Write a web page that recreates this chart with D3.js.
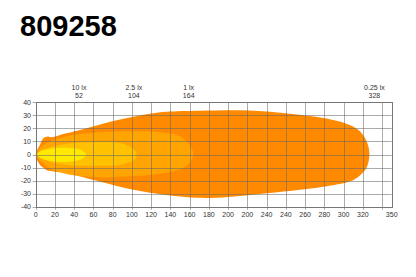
<!DOCTYPE html>
<html>
<head>
<meta charset="utf-8">
<script src="https://cdn.jsdelivr.net/npm/d3@7/dist/d3.min.js"></script>
<style>
  body { margin: 0; background: #fff; }
  text { font-family: "Liberation Sans", Arial, sans-serif; }
</style>
</head>
<body>
<div id="chart"></div>
<script>
// chart values
var title = "809258";
var xTickValues = [0, 20, 40, 60, 80, 100, 120, 140, 160, 180, 200, 220, 240, 260, 280, 300, 320, 340, 360];
var xTickLabels = ["0", "20", "40", "60", "80", "100", "120", "140", "160", "180", "200", "200", "240", "240", "260", "280", "300", "320", ""];
var xEndLabel = "350";
var yTickValues = [-40, -30, -20, -10, 0, 10, 20, 30, 40];
var luxLabels = ["10 lx", "2.5 lx", "1 lx", "0.25 lx"];
var luxDistances = ["52", "104", "164", "328"];
var luxLabelX = [45, 102, 159, 352];

// isolux zones [distance, width]
var zone025 = [[0, 0], [4.5, 7.5], [8, 12.4], [12.5, 13.8], [17, 13.2], [24, 14.6], [32, 16.2], [50, 19.6], [67, 23],
  [84, 26.3], [101.5, 29], [120, 31.4], [136, 32.8], [170, 33.6], [222, 33.8], [257, 31.8], [285, 29.5], [309, 26.5],
  [327, 22.5], [337, 17.8], [344, 10], [346.8, 1], [344, -10], [337, -16], [327, -20.5], [309, -23.5], [275, -27],
  [240, -29.7], [200, -32.5], [170, -33.2], [136, -31], [101.5, -27], [67, -20.8], [32, -14.4], [17, -12.8],
  [12, -12.2], [7.6, -10], [4.5, -8]];
var zone1 = [[0.8, 0], [4.5, 5], [9.7, 8], [15, 10], [32, 14], [67, 17], [101.5, 17.8], [125, 17.4], [136, 16.5],
  [150, 14], [158, 9], [162.5, 4], [163.8, 0], [162.5, -3.5], [158, -8], [150, -11.5], [136, -14], [120, -15.5],
  [101.5, -16.5], [67, -17.5], [32, -15], [15, -11], [9.7, -8], [4.5, -5]];
var zone25 = [[1.4, 0], [6.5, 3], [15, 5.5], [32, 8.3], [67, 9.5], [88, 8.8], [96, 6.5], [101.5, 4.5], [105, 0],
  [101.5, -5], [96, -6.2], [88, -8], [67, -8.6], [32, -8], [15, -5.5], [6.5, -3]];
var zone10 = [[1.4, 0], [4.5, 2.5], [11.7, 4], [22, 5], [36, 5], [46, 3.8], [50.2, 2], [52.3, 0], [50.2, -2.5],
  [46, -4.3], [36, -5.5], [22, -5.5], [11.7, -4.5], [4.5, -2.5]];

var zones = [zone025, zone1, zone25, zone10];
var zoneColors = ["#ff8a00", "#ffa400", "#ffc100", "#ffe900"];

var width = 416, height = 277;
var svg = d3.select('#chart').append('svg')
  .attr('width', width)
  .attr('height', height);

var x = d3.scaleLinear().domain([0, 370]).range([35.7, 391.7]);
var y = d3.scaleLinear().domain([-40, 40]).range([206.7, 102.3]);

svg.append('text')
  .attr('x', 20)
  .attr('y', 36)
  .attr('font-size', 29)
  .attr('font-weight', 'bold')
  .attr('fill', '#000')
  .text(title);

// zones
var line = d3.line()
  .x(function (d) { return x(d[0]); })
  .y(function (d) { return y(d[1]); })
  .curve(d3.curveCatmullRomClosed);

svg.selectAll('path.zone')
  .data(zones)
  .enter().append('path')
  .attr('class', 'zone')
  .attr('d', line)
  .attr('fill', function (d, i) { return zoneColors[i]; });

// grid on top
var grid = svg.append('g').attr('stroke', '#666').attr('stroke-opacity', 0.55).attr('stroke-width', 1);
grid.selectAll('line.v')
  .data(xTickValues)
  .enter().append('line')
  .attr('x1', function (d) { return Math.round(x(d)) + 0.5; })
  .attr('x2', function (d) { return Math.round(x(d)) + 0.5; })
  .attr('y1', y(40))
  .attr('y2', y(-40) + 3);
grid.selectAll('line.h')
  .data(yTickValues)
  .enter().append('line')
  .attr('y1', function (d) { return Math.round(y(d)) + 0.5; })
  .attr('y2', function (d) { return Math.round(y(d)) + 0.5; })
  .attr('x1', x(0) - 3)
  .attr('x2', x(370));
svg.append('rect')
  .attr('x', Math.round(x(0)) + 0.5)
  .attr('y', Math.round(y(40)) + 0.5)
  .attr('width', Math.round(x(370)) - Math.round(x(0)))
  .attr('height', Math.round(y(-40)) - Math.round(y(40)))
  .attr('fill', 'none')
  .attr('stroke', '#777');

// axes labels
svg.selectAll('text.xl')
  .data(xTickValues)
  .enter().append('text')
  .attr('x', function (d) { return x(d); })
  .attr('y', 216.5)
  .attr('text-anchor', 'middle')
  .attr('font-size', 7)
  .attr('fill', '#333')
  .text(function (d, i) { return xTickLabels[i]; });
svg.append('text')
  .attr('x', x(370))
  .attr('y', 216.5)
  .attr('text-anchor', 'middle')
  .attr('font-size', 7)
  .attr('fill', '#333')
  .text(xEndLabel);

svg.selectAll('text.yl')
  .data(yTickValues)
  .enter().append('text')
  .attr('x', 31)
  .attr('y', function (d) { return y(d) + 2.5; })
  .attr('text-anchor', 'end')
  .attr('font-size', 7)
  .attr('fill', '#333')
  .text(function (d) { return d; });

// lux labels
var lux = svg.selectAll('g.lux')
  .data(luxLabels)
  .enter().append('g')
  .attr('transform', function (d, i) { return 'translate(' + x(luxLabelX[i]) + ',0)'; });
lux.append('text')
  .attr('y', 89.7)
  .attr('text-anchor', 'middle')
  .attr('font-size', 7)
  .attr('fill', '#333')
  .text(function (d) { return d; });
lux.append('text')
  .attr('y', 98)
  .attr('text-anchor', 'middle')
  .attr('font-size', 7)
  .attr('fill', '#333')
  .text(function (d, i) { return luxDistances[i]; });
</script>
</body>
</html>
